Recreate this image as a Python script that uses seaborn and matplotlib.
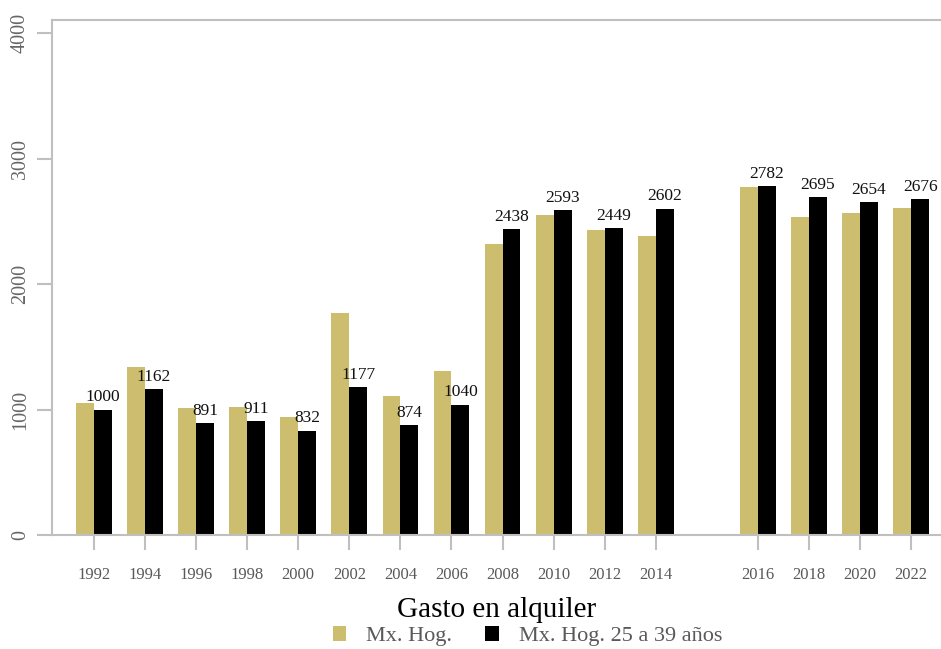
import pandas as pd
import numpy as np
import matplotlib.pyplot as plt
import seaborn as sns

# values
years = ['1992', '1994', '1996', '1998', '2000', '2002', '2004', '2006',
         '2008', '2010', '2012', '2014', '2016', '2018', '2020', '2022']
mx_hog = [1050, 1339, 1012, 1023, 940, 1766, 1108, 1309,
          2319, 2548, 2428, 2383, 2774, 2535, 2569, 2604]
mx_hog_25_39 = [1000, 1162, 891, 911, 832, 1177, 874, 1040,
                2438, 2593, 2449, 2602, 2782, 2695, 2654, 2676]

series_names = ['Mx. Hog.', 'Mx. Hog. 25 a 39 años']
palette = {'Mx. Hog.': '#cdbd6f', 'Mx. Hog. 25 a 39 años': '#000000'}

# slot on the x axis: one empty slot left between 2014 and 2016
slot = [i if int(y) <= 2014 else i + 1 for i, y in enumerate(years)]

df = pd.DataFrame({
    'year': years * 2,
    'pos': slot * 2,
    'value': mx_hog + mx_hog_25_39,
    'serie': [series_names[0]] * len(years) + [series_names[1]] * len(years),
})

sns.set_style('white')
plt.rcParams['font.family'] = ['Liberation Serif', 'DejaVu Serif']

fig = plt.figure(figsize=(9.41, 6.49), dpi=100)
ax = fig.add_axes([0.0553, 0.1757, 0.944, 0.7935])

sns.barplot(data=df, x='pos', y='value', hue='serie', hue_order=series_names,
            palette=palette, native_scale=True, width=0.7, saturation=1,
            linewidth=0, ax=ax)

# labels on the 25-39 bars
ax.bar_label(ax.containers[1], fmt='%d', padding=3, fontsize=12.5, color='#111111')

ax.set_xlim(-0.82, 16.57)
ax.set_ylim(0, 4105)
ax.set_yticks([0, 1000, 2000, 3000, 4000])
ax.set_yticklabels(['0', '1000', '2000', '3000', '4000'], rotation=90, va='center',
                   fontsize=14.5, color='#666666')
ax.set_xticks(slot)
ax.set_xticklabels(years, fontsize=12, color='#595959')

grey = '#bfbfbf'
for side in ['left', 'top', 'bottom']:
    ax.spines[side].set_color(grey)
    ax.spines[side].set_linewidth(1.5)
ax.spines['right'].set_visible(False)
ax.tick_params(axis='both', which='major', length=11, width=1.5, color=grey,
               direction='out', left=True, bottom=True)
ax.tick_params(axis='x', pad=12)
ax.tick_params(axis='y', pad=5)

ax.set_xlabel('Gasto en alquiler', fontsize=21, color='#000000', labelpad=10)
ax.set_ylabel('')

ax.legend(loc='center', bbox_to_anchor=(0.535, -0.197), ncol=2,
          frameon=False, fontsize=16, labelcolor='#595959',
          handlelength=0.6, handleheight=0.6, handletextpad=0.9,
          columnspacing=1.5, borderpad=0)

fig.savefig('out.png', dpi=100)
